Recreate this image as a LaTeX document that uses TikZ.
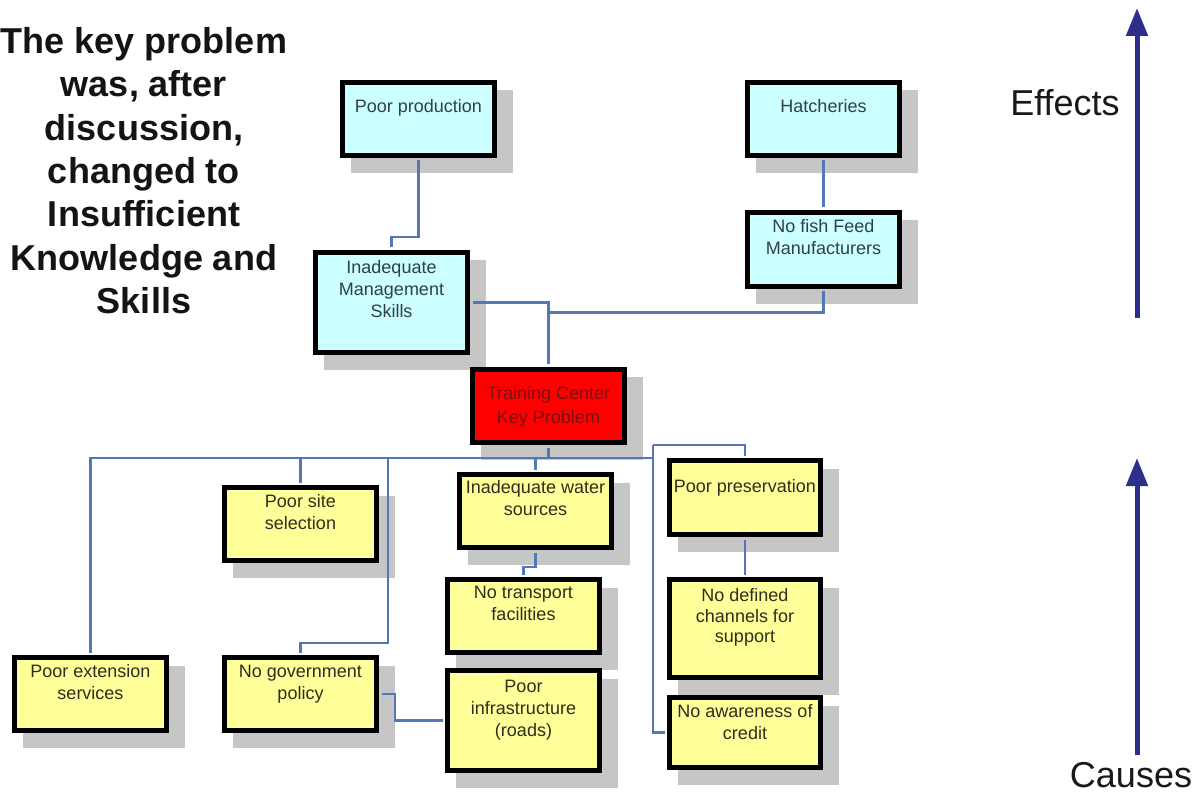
\documentclass[tikz,border=0pt]{standalone}
\usepackage{fontspec}
\setmainfont{Liberation Sans}
\usetikzlibrary{arrows.meta,backgrounds}
\definecolor{cyanbox}{HTML}{CCFFFF}
\definecolor{yelbox}{HTML}{FFFF99}
\definecolor{redbox}{HTML}{FF0000}
\definecolor{conncol}{HTML}{5477B8}
\definecolor{arrcol}{HTML}{2E2E8C}
\definecolor{shadowc}{HTML}{C6C6C6}
\definecolor{redtxt}{HTML}{7A1010}
\definecolor{ctxt}{HTML}{2E4048}
\definecolor{ytxt}{HTML}{2E2E1C}
\begin{document}
\begin{tikzpicture}[x=1pt,y=-1pt,
  box/.style={draw=black, line width=5pt, inner sep=0pt, minimum width=152pt, minimum height=73pt},
  cbox/.style={box, fill=cyanbox},
  ybox/.style={box, fill=yelbox},
  rbox/.style={box, fill=redbox},
  lbl/.style={anchor=north, inner sep=0pt, align=center, font=\fontsize{18}{22}\selectfont, text=ytxt},
  clbl/.style={lbl, text=ctxt},
  conn/.style={draw=conncol, line width=2.2pt},
  trimboth/.style={shorten <=2.5pt, shorten >=2.5pt},
  trimstart/.style={shorten <=2.5pt},
  trimend/.style={shorten >=2.5pt},
  bigarr/.style={draw=arrcol, line width=5pt, -{Triangle[width=21pt,length=28pt]}},
  bigtxt/.style={inner sep=0pt, font=\fontsize{36}{40}\selectfont, text=black!90}
]
\useasboundingbox (0,0) rectangle (1200,794);

% boxes
\node[cbox] (pp) at (418.5,119) {};
\node[cbox] (hat) at (823.5,119) {};
\node[cbox, minimum height=74pt] (nff) at (823.5,249.5) {};
\node[cbox, minimum height=100pt] (ims) at (391.5,302.5) {};
\node[rbox] (tc) at (548.5,406) {};
\node[ybox] (pss) at (300.5,524) {};
\node[ybox] (iws) at (535.5,511) {};
\node[ybox, minimum width=151pt, minimum height=74pt] (ppr) at (745,497.5) {};
\node[ybox] (ntf) at (523.5,616) {};
\node[ybox, minimum width=151pt, minimum height=98pt] (ndc) at (745,628.5) {};
\node[ybox] (pes) at (90.5,694) {};
\node[ybox] (ngp) at (300.5,694) {};
\node[ybox, minimum height=100pt] (pir) at (523.5,720.5) {};
\node[ybox, minimum width=151pt, minimum height=70pt] (nac) at (745,732.5) {};

% shadows and background
\begin{scope}[on background layer]
  \fill[white] (0,0) rectangle (1200,794);
  \foreach \n in {pp,hat,nff,ims,tc,pss,iws,ppr,ntf,ndc,pes,ngp,pir,nac}
    \fill[shadowc] ([shift={(10.5,10.5)}]\n.north west) rectangle ([shift={(16,15)}]\n.south east);
\end{scope}

% box texts
\node[clbl] (pp-t) at (418.5,97) {\strut Poor production};
\node[clbl] (hat-t) at (823.5,97) {\strut Hatcheries};
\node[clbl] (nff-t) at (823.5,217) {\strut No fish Feed\\Manufacturers};
\node[clbl] (ims-t) at (391.5,258) {\strut Inadequate\\Management\\Skills};
\node[lbl, text=redtxt, font=\fontsize{18}{23.5}\selectfont] (tc-t) at (548.5,383) {\strut Training Center\\Key Problem};
\node[lbl] (pss-t) at (300.5,492) {\strut Poor site\\selection};
\node[lbl] (iws-t) at (535.5,478) {\strut Inadequate water\\sources};
\node[lbl] (ppr-t) at (745,477) {\strut Poor preservation};
\node[lbl] (ntf-t) at (523.5,583) {\strut No transport\\facilities};
\node[lbl, font=\fontsize{18}{20.5}\selectfont] (ndc-t) at (745,587) {\strut No defined\\channels for\\support};
\node[lbl] (pes-t) at (90.5,662) {\strut Poor extension\\services};
\node[lbl] (ngp-t) at (300.5,662) {\strut No government\\policy};
\node[lbl] (pir-t) at (523.5,677) {\strut Poor\\infrastructure\\(roads)};
\node[lbl] (nac-t) at (745,702) {\strut No awareness of\\credit};

% connectors
\draw[conn, trimboth] (pp.south) -- ++(0,79) -| (ims.north);
\draw[conn, trimboth] (hat.south) -- (nff.north);
\draw[conn, trimboth] (nff.south) -- ++(0,23.5) -| (tc.north);
\draw[conn, trimboth] (ims.east) -| (tc.north);
\coordinate (busR) at (653,458);
\draw[conn, trimstart] (pes.north) |- (busR);
\draw[conn, trimstart] (tc.south) -- (tc.south |- busR);
\draw[conn, trimstart] (pss.north) -- (pss.north |- busR);
\draw[conn, trimstart] (iws.north) -- (iws.north |- busR);
\coordinate (gv) at (388,458);
\draw[conn, trimend] (gv) -- ++(0,185) -| (ngp.north);
\draw[conn, trimboth] (iws.south) -- ++(0,17) -| (ntf.north);
\coordinate (rv) at (653,445);
\draw[conn, trimend] (rv) |- (nac.west);
\draw[conn, trimend] (rv) -| (ppr.north);
\draw[conn, trimboth] (ppr.south) -- (ndc.north);
\draw[conn, trimboth] (ngp.east) -- ++(16,0) |- (pir.west);

% side texts
\node[anchor=north, inner sep=0pt, align=center, font=\fontsize{36}{43.3}\selectfont\bfseries, text=black!92] (note) at (144,23)
  {\strut The key problem\\was, after\\discussion,\\changed to\\Insufficient\\Knowledge and\\Skills};
\node[bigtxt] (eff) at (1065,103) {Effects};
\node[bigtxt] (cau) at (1131,775) {Causes};

% arrows
\coordinate (a1s) at (1137,318);
\coordinate (a1e) at (1137,8);
\coordinate (a2s) at (1137,755);
\coordinate (a2e) at (1137,458);
\draw[bigarr] (a1s) -- (a1e);
\draw[bigarr] (a2s) -- (a2e);
\end{tikzpicture}
\end{document}
